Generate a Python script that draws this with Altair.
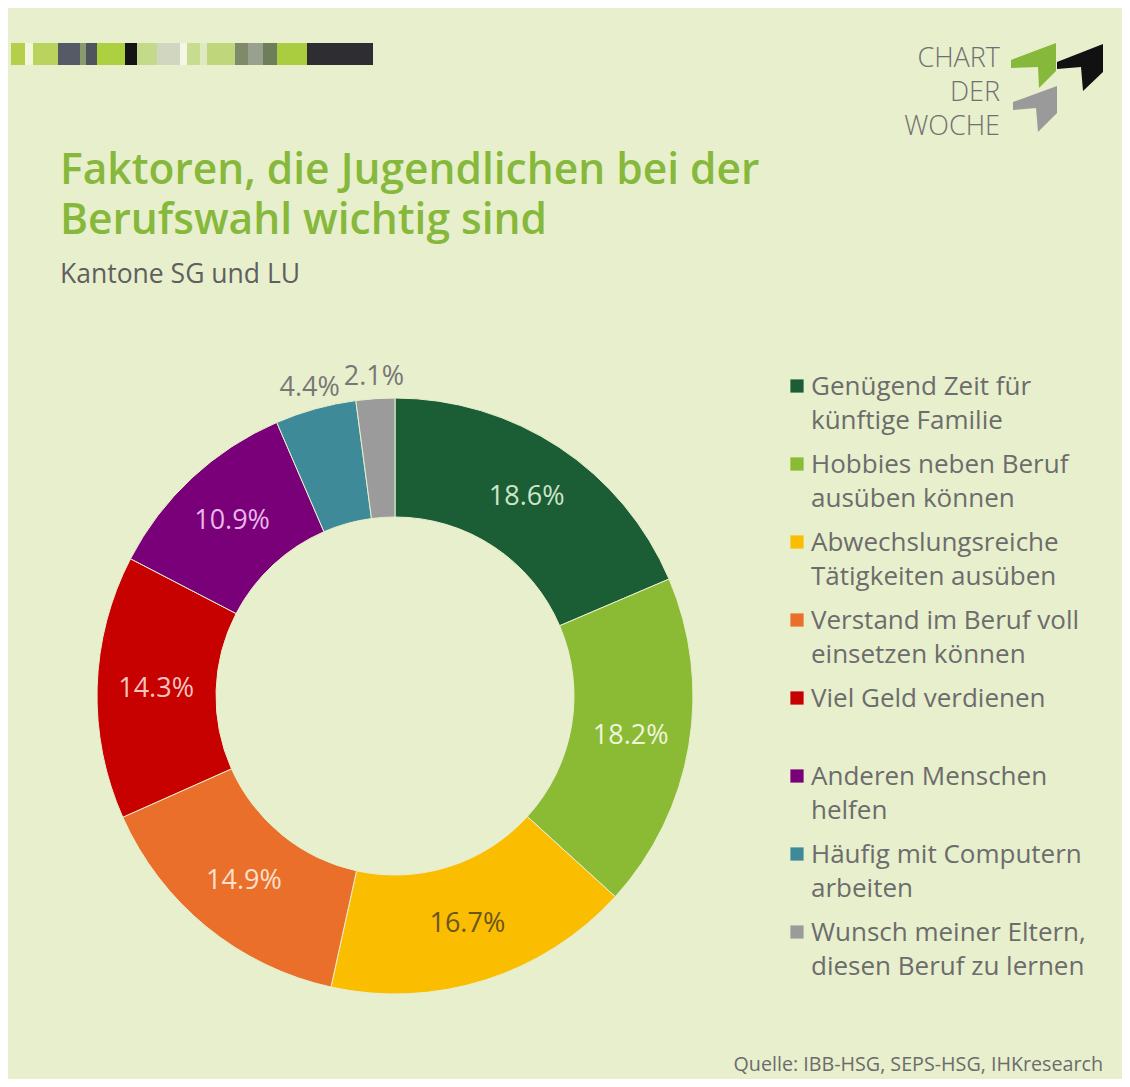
import altair as alt
import pandas as pd

# ---------------- data ----------------
categories = [
    "Genügend Zeit für künftige Familie",
    "Hobbies neben Beruf ausüben können",
    "Abwechslungsreiche Tätigkeiten ausüben",
    "Verstand im Beruf voll einsetzen können",
    "Viel Geld verdienen",
    "Anderen Menschen helfen",
    "Häufig mit Computern arbeiten",
    "Wunsch meiner Eltern, diesen Beruf zu lernen",
]
legend_lines = [
    "Genügend Zeit für\nkünftige Familie",
    "Hobbies neben Beruf\nausüben können",
    "Abwechslungsreiche\nTätigkeiten ausüben",
    "Verstand im Beruf voll\neinsetzen können",
    "Viel Geld verdienen",
    "Anderen Menschen\nhelfen",
    "Häufig mit Computern\narbeiten",
    "Wunsch meiner Eltern,\ndiesen Beruf zu lernen",
]
values = [18.6, 18.2, 16.7, 14.9, 14.3, 10.9, 4.4, 2.1]
colors = ["#1b5e36", "#8bbb35", "#fbbd00", "#e96f2b", "#c70000", "#790078", "#3f8a98", "#9b9b9b"]
label_colors = ["#cfe5c8", "#eef5da", "#6b5520", "#fbe0cc", "#f6c4be", "#eab6ea", "#777777", "#777777"]

title_lines = "Faktoren, die Jugendlichen bei der\nBerufswahl wichtig sind"
subtitle = "Kantone SG und LU"
source = "Quelle: IBB-HSG, SEPS-HSG, IHKresearch"
logo_text = "CHART\nDER\nWOCHE"

BG = "#e8efcc"
TEXT_GRAY = "#6c6c6c"
TITLE_GREEN = "#86b83b"
FONT = "Open Sans"

# ---------------- tables ----------------
labels_txt = [f"{v:.1f}%" for v in values]
df = pd.DataFrame({
    "idx": list(range(len(categories))),
    "cat": categories,
    "value": values,
    "col": colors,
    "lcol": label_colors,
    "lin": [t if v >= 5 else "" for t, v in zip(labels_txt, values)],
    "lout": [t if v < 5 else "" for t, v in zip(labels_txt, values)],
    "legend": legend_lines,
})

CX, CY = 387, 688  # donut centre

base = alt.Chart(df).encode(
    theta=alt.Theta("value:Q", stack=True),
    order=alt.Order("idx:Q"),
)

arcs = base.mark_arc(innerRadius=179, outerRadius=298, stroke=BG, strokeWidth=1).encode(
    color=alt.Color("col:N", scale=None),
    x=alt.value(CX), y=alt.value(CY),
)

labels_in = base.mark_text(font=FONT, fontSize=27, align="center", baseline="middle").encode(
    text="lin:N",
    radius=alt.value(239),
    color=alt.Color("lcol:N", scale=None),
    x=alt.value(CX), y=alt.value(CY),
)
labels_out = base.mark_text(font=FONT, fontSize=27, align="center", baseline="middle").encode(
    text="lout:N",
    radius=alt.value(320),
    color=alt.Color("lcol:N", scale=None),
    x=alt.value(CX), y=alt.value(CY),
)

# custom legend
ly = alt.Y("idx:Q", scale=alt.Scale(domain=[0, 7], range=[387, 933], zero=False, nice=False), axis=None)
leg_sq = alt.Chart(df).mark_square(size=175, opacity=1, filled=True, yOffset=-9).encode(
    x=alt.value(789), y=ly, color=alt.Color("col:N", scale=None),
)
leg_txt = alt.Chart(df).mark_text(
    font=FONT, fontSize=26, align="left", baseline="alphabetic", lineBreak="\n",
    lineHeight=34, color=TEXT_GRAY,
).encode(x=alt.value(803), y=ly, text="legend:N")

# titles and texts
one = pd.DataFrame({"title": [title_lines], "sub": [subtitle], "src": [source], "logo": [logo_text]})
title = alt.Chart(one).mark_text(
    font=FONT, fontSize=42.5, fontWeight=600, color=TITLE_GREEN, align="left",
    baseline="alphabetic", lineBreak="\n", lineHeight=50,
).encode(x=alt.value(52), y=alt.value(176), text="title:N")
sub = alt.Chart(one).mark_text(
    font=FONT, fontSize=26.5, color="#5f5f5f", align="left", baseline="alphabetic",
).encode(x=alt.value(52), y=alt.value(275), text="sub:N")
src = alt.Chart(one).mark_text(
    font=FONT, fontSize=19.7, color=TEXT_GRAY, align="right", baseline="alphabetic",
).encode(x=alt.value(1095), y=alt.value(1063), text="src:N")
logo = alt.Chart(one).mark_text(
    font=FONT, fontSize=27, fontWeight=300, color="#707070", align="right",
    baseline="alphabetic", lineBreak="\n", lineHeight=34,
).encode(x=alt.value(992), y=alt.value(59), text="logo:N")

# decorative stripe bar (image-pixel spans)
stripes = [
    (11, 25, "#b5cf4a"), (25, 33, "#f2f6dc"), (33, 58, "#b9d35c"), (58, 80, "#565a66"),
    (80, 86, "#8a9a70"), (86, 97, "#50545c"), (97, 125, "#acd040"), (125, 137, "#151515"),
    (137, 157, "#c5d98a"), (157, 180, "#d0d6c0"), (180, 187, "#f4f7e4"), (187, 200, "#c8dc90"),
    (200, 207, "#dfe8c0"), (207, 235, "#bfd77a"), (235, 248, "#7e8a6a"), (248, 263, "#9aa090"),
    (263, 277, "#6e7e5a"), (277, 307, "#a9cd3e"), (307, 373, "#2e2e32"),
]
sdf = pd.DataFrame({"x0": [s[0] - 8 for s in stripes], "x1": [s[1] - 8 for s in stripes],
                    "c": [s[2] for s in stripes]})
stripe_bar = alt.Chart(sdf).mark_rect().encode(
    x=alt.X("x0:Q", scale=None), x2="x1:Q", y=alt.value(35), y2=alt.value(57),
    color=alt.Color("c:N", scale=None),
)

# logo shapes (image-pixel polygons)
LC = (1057, 87)
HALF = 50.0
def shape_path(pts):
    s = []
    for i, (px, py) in enumerate(pts):
        s.append(("M" if i == 0 else "L") + f"{(px - LC[0]) / HALF:.3f},{(py - LC[1]) / HALF:.3f}")
    return " ".join(s) + " Z"

logo_shapes = [
    ([(1011, 60), (1056, 43), (1056, 71), (1039, 88), (1038, 67), (1011, 68)], "#86b83b"),
    ([(1057, 62), (1103, 44), (1103, 72), (1083, 91), (1081, 67), (1057, 69)], "#111111"),
    ([(1013, 102), (1057, 86), (1057, 113), (1038, 132), (1036, 108), (1013, 110)], "#9a9a9a"),
]
shape_layers = [
    alt.Chart(one).mark_point(shape=shape_path(p), size=(2 * HALF) ** 2, filled=True,
                              opacity=1, color=c, strokeWidth=0).encode(
        x=alt.value(LC[0] - 8), y=alt.value(LC[1] - 8))
    for p, c in logo_shapes
]

chart = alt.layer(
    stripe_bar, *shape_layers, logo, title, sub, arcs, labels_in, labels_out, leg_sq, leg_txt, src,
).properties(
    width=1114, height=1071, background=BG, padding=0,
    autosize=alt.AutoSizeParams(type="none"),
).configure_view(stroke=None)

chart.save("out.html", embed_options={"renderer": "svg", "actions": False})
